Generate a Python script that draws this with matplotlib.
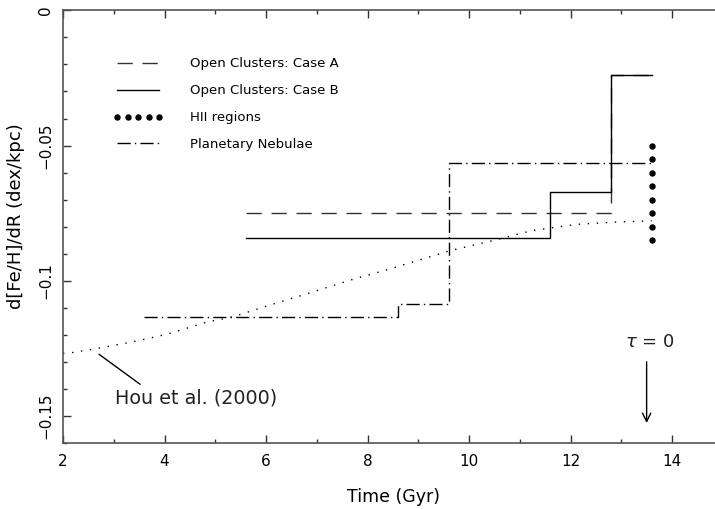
import matplotlib
matplotlib.use("Agg")
import matplotlib.pyplot as plt
from matplotlib.ticker import MultipleLocator, FixedLocator, FixedFormatter

# ---- data ----
caseA_x = [5.6, 12.8, 13.6]
caseA_y = [-0.075, -0.024, -0.024]

caseB_x = [5.6, 11.6, 12.8, 13.6]
caseB_y = [-0.084, -0.067, -0.024, -0.024]

pn_x = [3.6, 8.6, 9.6, 13.6]
pn_y = [-0.1135, -0.1085, -0.0565, -0.0565]

hii_x = [13.6, 13.6, 13.6, 13.6, 13.6, 13.6, 13.6, 13.6]
hii_y = [-0.050, -0.055, -0.060, -0.065, -0.070, -0.075, -0.080, -0.085]

hou_x = [2.0, 2.17, 2.76, 3.48, 4.07, 4.80, 5.36, 6.08, 6.80, 7.66, 8.36,
         9.07, 9.63, 10.51, 11.24, 12.12, 12.84, 13.6]
hou_y = [-0.1268, -0.1265, -0.1247, -0.1221, -0.1196, -0.1154, -0.1132,
         -0.1089, -0.1048, -0.0997, -0.0960, -0.0920, -0.0888, -0.0849,
         -0.0814, -0.0791, -0.0783, -0.0778]

labels = ["Open Clusters: Case A", "Open Clusters: Case B", "HII regions",
          "Planetary Nebulae"]
yticks = [0.0, -0.05, -0.1, -0.15]
yticklabels = ["0", "\u22120.05", "\u22120.1", "\u22120.15"]
xticks = [2, 4, 6, 8, 10, 12, 14]

# ---- figure ----
plt.rcParams['font.family'] = ['DejaVu Sans']
fig = plt.figure(figsize=(7.15, 5.09), dpi=100)
ax = fig.add_axes([63/715, 65.7/509, 652/715, 433/509])

lA, = ax.step(caseA_x, caseA_y, where='post', color='#333333', lw=1.0,
              dashes=(11, 7))
lB, = ax.step(caseB_x, caseB_y, where='post', color='black', lw=1.0)
lP, = ax.step(pn_x, pn_y, where='post', color='black', lw=1.0,
              dashes=(9.5, 3, 1, 3))
lH, = ax.plot(hii_x, hii_y, linestyle='none', marker='o', ms=3.6,
              color='black')
ax.plot(hou_x, hou_y, color='black', lw=1.0, dashes=(1, 5.5))

ax.set_xlim(2, 2 + 652/50.75)
ax.set_ylim(-0.16, 0.0)

ax.legend([lA, lB, lH, lP], labels, loc='upper left',
          bbox_to_anchor=(0.077, 0.891), frameon=False, fontsize=9.5,
          handlelength=3.8, handletextpad=2.0, labelspacing=1.05,
          numpoints=5, borderpad=0, borderaxespad=0)

# annotations
ax.annotate("", xy=(2.71, -0.1271), xytext=(3.52, -0.1382),
            arrowprops=dict(arrowstyle='-', color='black', lw=1.0,
                            shrinkA=0, shrinkB=0))
ax.text(3.02, -0.1433, "Hou et al. (2000)", fontsize=13.8, va='center',
        ha='left', color='#222222')
ax.text(13.57, -0.1225, r"$\tau$ = 0", fontsize=13, ha='center', va='center',
        color='#222222')
ax.annotate("", xy=(13.5, -0.1525), xytext=(13.5, -0.1299),
            arrowprops=dict(arrowstyle='->,head_length=0.6,head_width=0.3',
                            color='black', lw=1.0, shrinkA=0, shrinkB=0))

# axes styling
for s in ['left', 'bottom', 'top']:
    ax.spines[s].set_color('#555555')
    ax.spines[s].set_linewidth(1.2)
ax.spines['right'].set_visible(False)

ax.xaxis.set_major_locator(FixedLocator(xticks))
ax.xaxis.set_minor_locator(MultipleLocator(1))
ax.yaxis.set_major_locator(FixedLocator(yticks))
ax.yaxis.set_major_formatter(FixedFormatter(yticklabels))
ax.yaxis.set_minor_locator(MultipleLocator(0.01))
ax.tick_params(which='both', direction='in', top=True, right=False,
               color='#333333')
ax.tick_params(which='major', length=6, width=1, labelsize=11)
ax.tick_params(axis='x', which='major', pad=8)
ax.tick_params(axis='y', which='major', pad=7)
ax.tick_params(which='minor', length=3, width=1)
for lab in ax.get_yticklabels():
    lab.set_rotation(90)
    lab.set_va('center')

ax.set_xlabel("Time (Gyr)", fontsize=12.5)
ax.xaxis.set_label_coords(0.507, -0.124)
ax.xaxis.label.set_va('center')
ax.set_ylabel("d[Fe/H]/dR (dex/kpc)", fontsize=13)
ax.yaxis.set_label_coords(-0.058, 0.525)

fig.savefig("out.png", dpi=100)
